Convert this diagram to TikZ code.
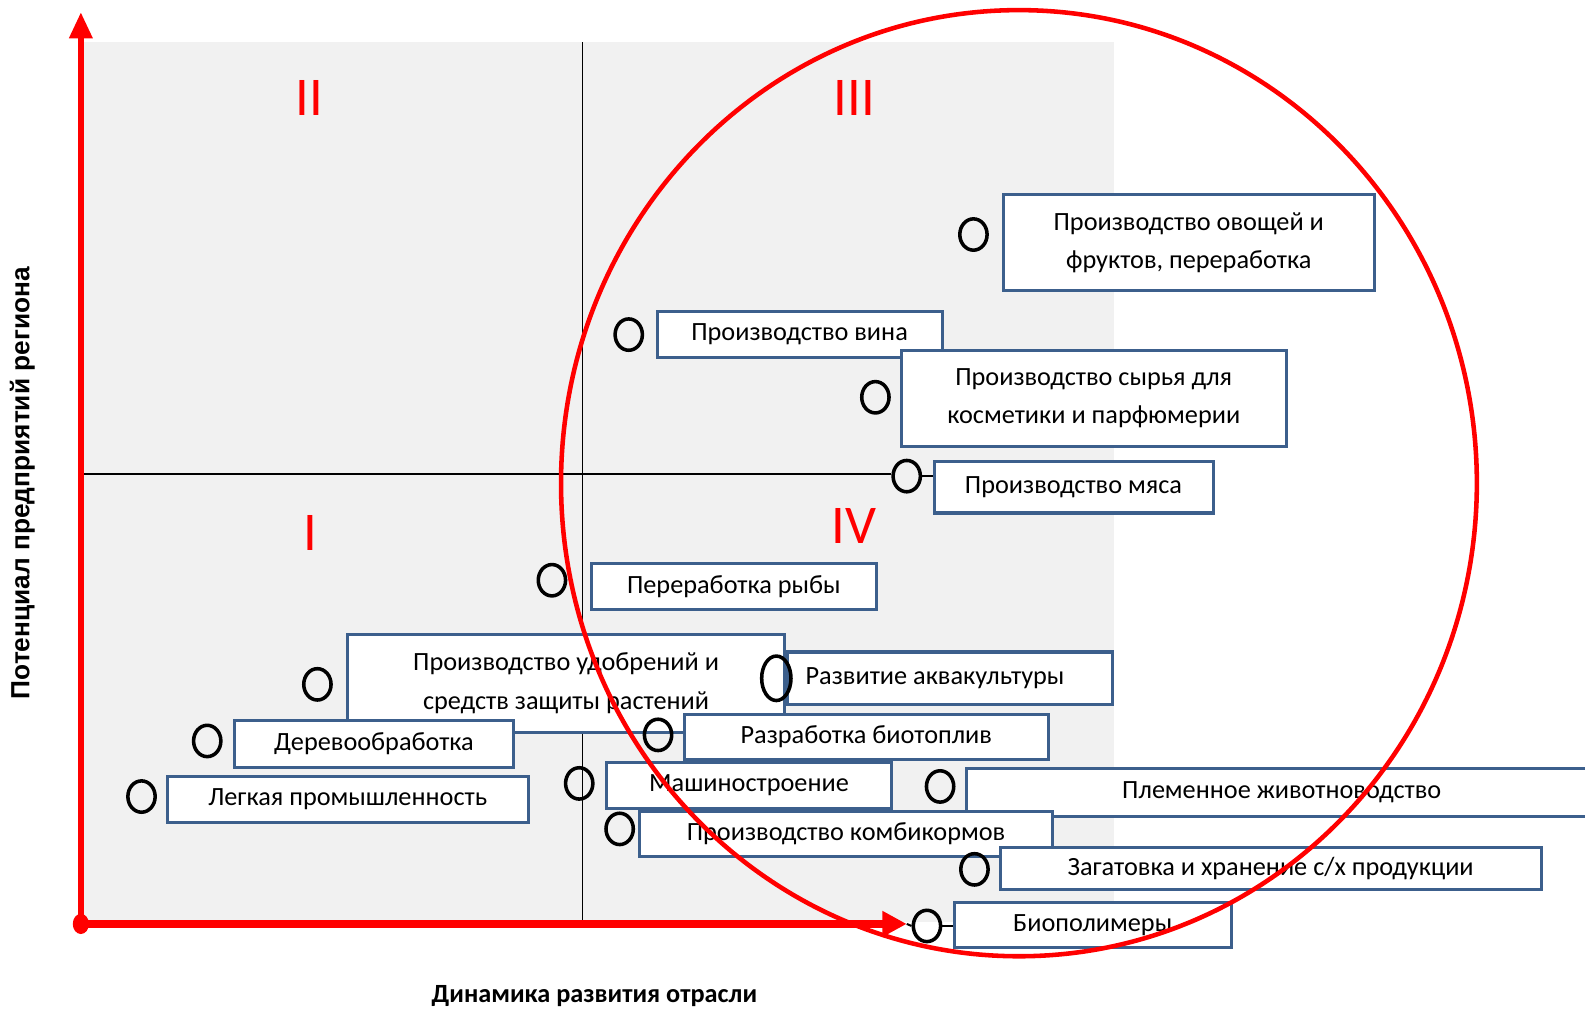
\documentclass[tikz,border=0pt]{standalone}
\usepackage{fontspec}
\setmainfont{Carlito}
\setsansfont{Carlito}[FakeBold=0.6]
\newfontfamily\axisfont{Liberation Sans}
\usetikzlibrary{positioning,arrows.meta,shapes.geometric}
\definecolor{boxblue}{RGB}{60,95,140}
\definecolor{fieldgray}{RGB}{241,241,241}

\begin{document}
\begin{tikzpicture}[x=1pt,y=-1pt,font=\sffamily]
    \tikzstyle{sector}=[draw=boxblue, line width=3pt, fill=white, inner sep=0pt, align=center, font=\fontsize{26}{38}\selectfont]
    \tikzstyle{ring}=[draw, ellipse, line width=3.5pt, minimum width=27pt, minimum height=31pt, inner sep=0pt]
    \tikzstyle{numeral}=[text=red, font=\rmfamily\fontsize{54}{54}\selectfont]
    \tikzstyle{axis}=[red, line width=6pt]

    \useasboundingbox (0,0) rectangle (1568,999);
    \fill[fieldgray] (83,42) rectangle (1102,912);

    % quadrant lines
    \coordinate (origin) at (80,914);
    \coordinate (ytop) at (80,12);
    \coordinate (xtip) at (897,914);
    \coordinate (midleft) at (83,469);
    \draw[line width=1.2pt] (576,42) -- (576,912);

    \node[numeral] (q2) at (306,97) {II};
    \node[numeral] (q3) at (845,97) {III};
    \node[numeral] (q1) at (307,527) {I};
    \node[numeral] (q4) at (845,520) {IV};

    % industries
    \node[sector, minimum width=367pt, minimum height=95pt] (veg) at (1176,240) {Производство овощей и\\фруктов, переработка};
    \node[sector, minimum width=282pt, minimum height=46pt] (wine) at (791,331) {Производство вина};
    \node[sector, minimum width=381pt, minimum height=95pt] (cosm) at (1082,394) {Производство сырья для\\косметики и парфюмерии};
    \node[sector, minimum width=276pt, minimum height=51pt] (meat) at (1062,482) {Производство мяса};
    \node[sector, minimum width=282pt, minimum height=46pt] (fish) at (726,580) {Переработка рыбы};
    \node[sector, minimum width=433pt, minimum height=97pt] (fert) at (560,676) {Производство удобрений и\\средств защиты растений};
    \node[sector, minimum width=322pt, minimum height=52pt] (aqua) at (940,671) {\hspace*{-30pt}Развитие аквакультуры};
    \node[sector, minimum width=276pt, minimum height=47pt] (wood) at (370,736) {Деревообработка};
    \node[sector, minimum width=360pt, minimum height=45pt] (fuel) at (857,729) {Разработка биотоплив};
    \node[sector, minimum width=357pt, minimum height=46pt] (light) at (344,791) {Легкая промышленность};
    \node[sector, minimum width=282pt, minimum height=45pt] (mach) at (741,777) {Машиностроение};
    \node[sector, minimum width=630pt, minimum height=48pt] (breed) at (1271,784) {\hspace*{-6pt}Племенное животноводство};
    \node[sector, minimum width=409pt, minimum height=44pt] (feed) at (837,825) {Производство комбикормов};
    \node[sector, minimum width=535pt, minimum height=42pt] (store) at (1257,859) {Загатовка и хранение с/х продукции};
    \node[sector, minimum width=274pt, minimum height=45pt] (poly) at (1081,915) {Биополимеры};

    % markers
    \node[ring] (rveg) at (963,232) {};
    \node[ring] (rwine) at (622,331) {};
    \node[ring] (rcosm) at (866,393) {};
    \node[ring] (rmeat) at (897,471) {};
    \node[ring] (rfish) at (546,574) {};
    \node[ring] (rfert) at (314,677) {};
    \node[ring, minimum width=29pt, minimum height=44pt] (raqua) at (768,671) {};
    \node[ring] (rwood) at (205,733) {};
    \node[ring] (rfuel) at (651,727) {};
    \node[ring] (rlight) at (140,788) {};
    \node[ring] (rmach) at (573,775) {};
    \node[ring] (rbreed) at (930,778) {};
    \node[ring] (rfeed) at (613,820) {};
    \node[ring] (rstore) at (964,860) {};
    \node[ring] (rpoly) at (917,916) {};

    \draw[line width=2pt] (midleft) -- (midleft -| rmeat.west);
    \draw[line width=2pt] (rmeat.east) -- (rmeat.east -| meat.west);
    \draw[line width=2pt] (xtip) -- (rpoly.west);
    \draw[line width=2pt] (rpoly.east) -- (rpoly.east -| poly.west);

    % axes
    \draw[axis, -{Triangle[length=26pt,width=22pt]}] (origin) -- (ytop);
    \draw[axis, line width=8pt, -{Triangle[length=24pt,width=24pt]}] (origin) -- (xtip);
    \fill[red] (origin) ellipse [x radius=8pt, y radius=10pt];

    \node[rotate=90, font=\axisfont\bfseries\fontsize{26}{26}\selectfont] (ylab) at (22,478) {Потенциал предприятий региона};
    \node[font=\bfseries\fontsize{26}{26}\selectfont] (xlab) at (588,985) {Динамика развития отрасли};

    % zone of interest
    \draw[red, line width=4.5pt] (1008,478) ellipse [x radius=453pt, y radius=468pt];
\end{tikzpicture}
\end{document}
